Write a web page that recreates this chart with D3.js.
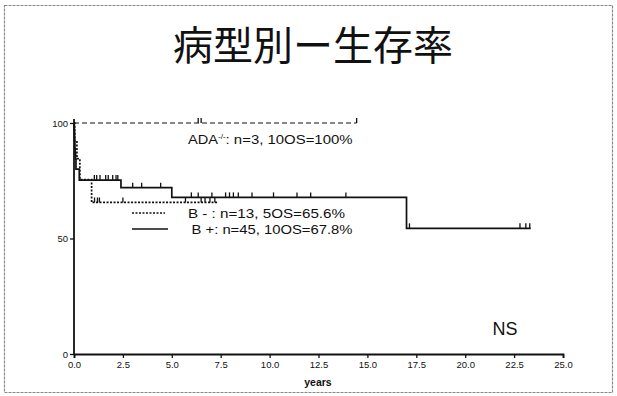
<!DOCTYPE html>
<html><head><meta charset="utf-8">
<script src="https://cdn.jsdelivr.net/npm/d3@7/dist/d3.min.js"></script>
<style>
body{margin:0;background:#fff;}
svg{display:block;}
</style></head>
<body>
<svg id="chart" width="617" height="396"></svg>
<script>
// ---- data ----
const title = "病型別ー生存率";
const xTicks = [0, 2.5, 5, 7.5, 10, 12.5, 15, 17.5, 20, 22.5, 25];
const yTicks = [0, 50, 100];
const xLabel = "years";
const nsLabel = "NS";

// ADA-/- : step times and survival (%)
const adaTimes = [0, 14.45];
const adaSurv  = [100, 100];
const adaCensor = [6.35, 6.5, 14.45];

// B- : n=13
const bmTimes = [0, 0.04, 0.15, 0.3, 0.9, 7.33];
const bmSurv  = [100, 92.3, 84.6, 75.5, 65.6, 65.6];
const bmCensor = [1.05, 1.2, 1.3, 2.5, 5.7, 6.5, 6.7, 6.95, 7.2];

// B+ : n=45
const bpTimes = [0, 0.01, 0.02, 0.03, 0.04, 0.05, 0.06, 0.08, 0.1, 0.27, 2.4, 5.0, 17.0, 23.35];
const bpSurv  = [100, 97.8, 95.6, 93.3, 91.1, 88.9, 86.7, 84.4, 80.0, 75.3, 72.0, 67.8, 54.4, 54.4];
const bpCensor = [1.04, 1.16, 1.33, 1.62, 1.75, 1.98, 2.15, 2.24, 3.0, 3.46, 4.43,
                  6.0, 6.35, 7.05, 7.75, 7.95, 8.15, 8.4, 9.1, 10.2, 11.4, 12.1, 13.9,
                  17.15, 22.8, 23.1, 23.3];

const legendLabels = ["B - : n=13, 5OS=65.6%", "B +: n=45, 10OS=67.8%"];

// ---- drawing ----
const svg = d3.select("#chart");
const x = d3.scaleLinear().domain([0, 25]).range([74, 563]);
const y = d3.scaleLinear().domain([0, 100]).range([354, 123]);
const font = "'Liberation Sans', Arial, sans-serif";

// outer frame
svg.append("rect").attr("x", 4.5).attr("y", 5.5).attr("width", 608).attr("height", 387)
  .attr("fill", "none").attr("stroke", "#888").attr("stroke-width", 1.2)
  .attr("stroke-dasharray", "3,1");

// title
svg.append("text").attr("x", 313).attr("y", 60).attr("text-anchor", "middle")
  .attr("font-family", "'Noto Sans CJK JP', sans-serif").attr("font-size", 40)
  .attr("fill", "#111").text(title);

// axes
const xAxis = d3.axisBottom(x).tickValues(xTicks).tickFormat(d3.format(".1f")).tickSize(4).tickPadding(3);
const gx = svg.append("g").attr("transform", "translate(0,354)").call(xAxis);
gx.select(".domain").attr("stroke", "#111").attr("stroke-width", 1.8);
gx.selectAll(".tick line").attr("stroke", "#111").attr("stroke-width", 1.3);
gx.selectAll("text").attr("font-family", font).attr("font-size", 9.5).attr("fill", "#111");

const yAxis = d3.axisLeft(y).tickValues(yTicks).tickSize(4).tickPadding(2);
const gy = svg.append("g").attr("transform", "translate(74,0)").call(yAxis);
gy.select(".domain").remove();
gy.append("line").attr("x1", 0).attr("x2", 0).attr("y1", 119).attr("y2", 354)
  .attr("stroke", "#111").attr("stroke-width", 1.8);
gy.selectAll(".tick line").attr("stroke", "#111").attr("stroke-width", 1.3);
gy.selectAll("text").attr("font-family", font).attr("font-size", 9.5).attr("fill", "#111");

svg.append("text").attr("x", 318).attr("y", 386).attr("text-anchor", "middle")
  .attr("font-family", font).attr("font-size", 10.5).attr("font-weight", "bold")
  .attr("fill", "#111").text(xLabel);

// step lines
const line = d3.line().curve(d3.curveStepAfter).x(d => x(d[0])).y(d => y(d[1]));
function stepFor(times, surv) { return times.map((t, i) => [t, surv[i]]); }
function survAt(times, surv, t) {
  let v = surv[0];
  for (let i = 0; i < times.length; i++) if (times[i] <= t) v = surv[i];
  return v;
}
function drawSeries(times, surv, censor, dash, width) {
  svg.append("path").datum(stepFor(times, surv)).attr("d", line)
    .attr("fill", "none").attr("stroke", "#111").attr("stroke-width", width)
    .attr("stroke-dasharray", dash);
  svg.append("g").selectAll("line").data(censor).join("line")
    .attr("x1", d => x(d)).attr("x2", d => x(d))
    .attr("y1", d => y(survAt(times, surv, d))).attr("y2", d => y(survAt(times, surv, d)) - 5)
    .attr("stroke", "#111").attr("stroke-width", 1.3);
}
drawSeries(adaTimes, adaSurv, adaCensor, "5,3", 1.1);
drawSeries(bmTimes, bmSurv, bmCensor, "2,1.5", 1.7);
drawSeries(bpTimes, bpSurv, bpCensor, null, 1.7);

// ADA label
const ada = svg.append("text").attr("x", 188).attr("y", 143.5)
  .attr("font-family", font).attr("font-size", 13.5).attr("fill", "#111");
ada.append("tspan").attr("textLength", 30).attr("lengthAdjust", "spacingAndGlyphs").text("ADA");
ada.append("tspan").attr("font-size", 8).attr("dy", -5).text("-/-");
ada.append("tspan").attr("dy", 5).attr("textLength", 127).attr("lengthAdjust", "spacingAndGlyphs")
  .text(": n=3, 10OS=100%");

// legend
svg.append("line").attr("x1", 132).attr("x2", 165).attr("y1", 213).attr("y2", 213)
  .attr("stroke", "#111").attr("stroke-width", 1.7).attr("stroke-dasharray", "2,1.5");
svg.append("line").attr("x1", 132).attr("x2", 168).attr("y1", 229).attr("y2", 229)
  .attr("stroke", "#111").attr("stroke-width", 1.7);
svg.append("text").attr("x", 188).attr("y", 218).attr("font-family", font)
  .attr("font-size", 13.5).attr("fill", "#111")
  .attr("textLength", 157).attr("lengthAdjust", "spacingAndGlyphs").text(legendLabels[0]);
svg.append("text").attr("x", 191.5).attr("y", 234).attr("font-family", font)
  .attr("font-size", 13.5).attr("fill", "#111")
  .attr("textLength", 161).attr("lengthAdjust", "spacingAndGlyphs").text(legendLabels[1]);

// NS
svg.append("text").attr("x", 505).attr("y", 335).attr("text-anchor", "middle")
  .attr("font-family", font).attr("font-size", 18).attr("fill", "#111").text(nsLabel);
</script>
</body></html>
